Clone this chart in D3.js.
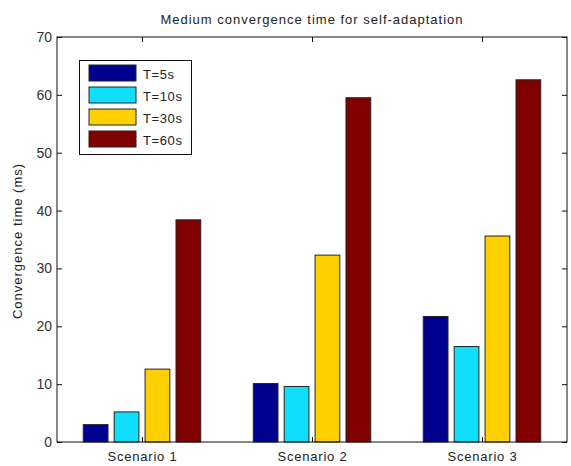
<!DOCTYPE html>
<html>
<head>
<meta charset="utf-8">
<script src="https://cdn.jsdelivr.net/npm/d3@7"></script>
<style>
  body { margin: 0; background: #fff; }
  svg text { font-family: "Liberation Sans", Arial, sans-serif; fill: #222; }
</style>
</head>
<body>
<svg width="571" height="466"></svg>
<script>
const scenarios = ['Scenario 1', 'Scenario 2', 'Scenario 3'];
const seriesNames = ['T=5s', 'T=10s', 'T=30s', 'T=60s'];
const t5 = [3.0, 10.1, 21.7];
const t10 = [5.2, 9.6, 16.5];
const t30 = [12.6, 32.3, 35.6];
const t60 = [38.4, 59.5, 62.6];
const yTicks = [0, 10, 20, 30, 40, 50, 60, 70];
const colors = ['#00008f', '#0fdffb', '#ffd000', '#800000'];

const series = [t5, t10, t30, t60];

const svg = d3.select('svg');
const pL = 57, pR = 567, pT = 37, pB = 442;

// matlab style: positions 1..3, xlim [0.5, 3.5]
const x = d3.scaleLinear().domain([0.5, 3.5]).range([pL, pR]);
const y = d3.scaleLinear().domain([0, 70]).range([pB, pT]);

const groupW = Math.min(0.8, 4 / 5.5);
const step = groupW / 4;
const barW = step * 0.8;

// bars
series.forEach((vals, si) => {
  svg.selectAll(null)
    .data(vals)
    .enter()
    .append('rect')
    .attr('x', (d, i) => x(i + 1 - groupW / 2 + step * si + (step - barW) / 2))
    .attr('y', d => y(d))
    .attr('width', x(barW) - x(0))
    .attr('height', d => y(0) - y(d))
    .attr('fill', colors[si])
    .attr('stroke', '#222')
    .attr('stroke-width', 1);
});

// axes box
svg.append('rect')
  .attr('x', pL).attr('y', pT)
  .attr('width', pR - pL).attr('height', pB - pT)
  .attr('fill', 'none').attr('stroke', '#111').attr('stroke-width', 1);

const yl = d3.axisLeft(y).tickValues(yTicks).tickSizeInner(-5).tickSizeOuter(0).tickPadding(5);
const gy = svg.append('g').attr('transform', `translate(${pL},0)`).call(yl);
gy.select('.domain').remove();
gy.selectAll('text').style('font-size', '14px').style('fill', '#333');

const yr = d3.axisRight(y).tickValues(yTicks).tickSizeInner(-5).tickSizeOuter(0).tickFormat('');
const gyr = svg.append('g').attr('transform', `translate(${pR},0)`).call(yr);
gyr.select('.domain').remove();

const xb = d3.axisBottom(x).tickValues([1, 2, 3]).tickSizeInner(-5).tickSizeOuter(0)
  .tickPadding(10).tickFormat((d, i) => scenarios[i]);
const gx = svg.append('g').attr('transform', `translate(0,${pB})`).call(xb);
gx.select('.domain').remove();
gx.selectAll('text').style('font-size', '13px').style('letter-spacing', '0.8px');

const xt = d3.axisTop(x).tickValues([1, 2, 3]).tickSizeInner(-5).tickSizeOuter(0).tickFormat('');
const gxt = svg.append('g').attr('transform', `translate(0,${pT})`).call(xt);
gxt.select('.domain').remove();

svg.selectAll('.tick line').attr('stroke', '#111');

// title + y label
svg.append('text')
  .attr('x', 312).attr('y', 24)
  .attr('text-anchor', 'middle').style('font-size', '13px').style('letter-spacing', '1px')
  .text('Medium convergence time for self-adaptation');

svg.append('text')
  .attr('transform', `translate(22,241) rotate(-90)`)
  .attr('text-anchor', 'middle').style('font-size', '13px').style('letter-spacing', '1px')
  .text('Convergence time (ms)');

// legend
const lg = svg.append('g');
lg.append('rect')
  .attr('x', 79.5).attr('y', 60.5).attr('width', 112).attr('height', 94)
  .attr('fill', '#fff').attr('stroke', '#111');
seriesNames.forEach((name, i) => {
  const ry = 65 + i * 22;
  lg.append('rect')
    .attr('x', 89).attr('y', ry).attr('width', 47).attr('height', 16)
    .attr('fill', colors[i]).attr('stroke', '#222');
  lg.append('text')
    .attr('x', 143).attr('y', ry + 14)
    .style('font-size', '13px').style('letter-spacing', '0.6px')
    .text(name);
});
</script>
</body>
</html>
